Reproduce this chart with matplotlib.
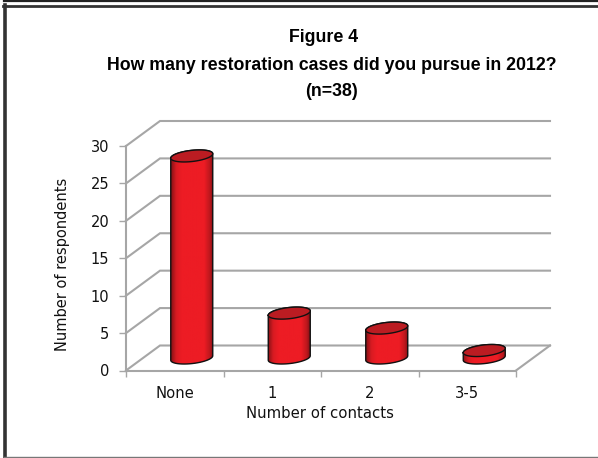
import numpy as np
import matplotlib
matplotlib.use('Agg')
import matplotlib.pyplot as plt
from matplotlib.colors import LinearSegmentedColormap
from matplotlib.lines import Line2D
from matplotlib.patches import Polygon

categories = ['None', '1', '2', '3-5']
respondents = [27, 6, 4, 1]
yTicks = [0, 5, 10, 15, 20, 25, 30]

titleLines = ['Figure 4', 'How many restoration cases did you pursue in 2012?', '(n=38)']
titleY = [38, 65, 91]
titleX = [324, 332, 332]

W, H = 598, 458
gridColor = '#a6a6a6'
red = '#ed1c24'
redTop = '#bb1c22'

fig = plt.figure(figsize=(W / 100, H / 100), dpi=100)
ax = fig.add_axes([126 / W, 1 - 370.5 / H, 390 / W, 224.5 / H])
ax.set_xlim(-0.5, 3.5)
ax.set_ylim(0, 30)
ax.patch.set_alpha(0)

# size of one pixel in data units
pxX = 4 / 390
pxY = 30 / 224.5
depthX = 34 * pxX
depthY = 25 * pxY


## ----------------------------------------------------------------------------------------
def drawWalls():
    for v in yTicks:
        ax.plot([-0.5, -0.5 + depthX, 3.5 + depthX], [v, v + depthY, v + depthY],
                color=gridColor, lw=1.5, clip_on=False, zorder=1, solid_joinstyle='miter')
    ax.plot([3.5, 3.5 + depthX], [0, depthY], color=gridColor, lw=1.5, clip_on=False, zorder=1)


def ellipsePoints(cx, cy, t):
    # slightly tilted ellipse, the right end is higher than the left end
    a, b, tilt = 21.0, 5.6, 2.2
    x = a * np.cos(t)
    y = b * np.sin(t) + tilt * np.cos(t)
    return cx + x * pxX, cy + y * pxY


def drawCylinder(i, value):
    cx = i + depthX / 2
    base = depthY / 2

    tTop = np.linspace(np.pi, 0, 40)
    tLow = np.linspace(0, -np.pi, 40)
    xTop, yTop = ellipsePoints(cx, base + value, tTop)
    xLow, yLow = ellipsePoints(cx, base, tLow)
    xBody = np.concatenate([xTop, xLow])
    yBody = np.concatenate([yTop, yLow])
    body = Polygon(np.column_stack([xBody, yBody]), closed=True, facecolor=red, edgecolor='none',
                   zorder=3, clip_on=False)
    ax.add_patch(body)

    shade = LinearSegmentedColormap.from_list('shade', [(0, '#8a1216'), (0.12, '#d81b22'), (0.25, red),
                                                        (0.8, red), (0.93, '#bd171d'), (1, '#8a1216')])
    img = ax.imshow(np.linspace(0, 1, 64).reshape(1, -1), cmap=shade, aspect='auto', zorder=3.1,
                    extent=[xBody.min(), xBody.max(), yBody.min(), yBody.max()])
    img.set_clip_path(body)
    ax.plot(np.append(xBody, xBody[0]), np.append(yBody, yBody[0]), color='#111111', lw=1.0, zorder=4,
            clip_on=False)

    t = np.linspace(0, 2 * np.pi, 80)
    xCap, yCap = ellipsePoints(cx, base + value, t)
    cap = Polygon(np.column_stack([xCap, yCap]), closed=True, facecolor=redTop, edgecolor='#111111',
                  lw=1.0, zorder=5, clip_on=False)
    ax.add_patch(cap)


## ----------------------------------------------------------------------------------------
drawWalls()
for i, value in enumerate(respondents):
    drawCylinder(i, value)

ax.set_xlim(-0.5, 3.5)
ax.set_ylim(0, 30)

for side in ['top', 'right']:
    ax.spines[side].set_visible(False)
for side in ['left', 'bottom']:
    ax.spines[side].set_color(gridColor)
    ax.spines[side].set_linewidth(1.5)

ax.set_yticks(yTicks)
ax.set_xticks(range(len(categories)))
ax.set_xticklabels(categories)
ax.set_xticks(np.arange(-0.5, 4, 1), minor=True)
ax.tick_params(axis='x', which='major', length=0, pad=11, labelsize=10.6, colors='#111111')
ax.tick_params(axis='x', which='minor', length=4, width=1, color=gridColor)
ax.tick_params(axis='y', length=5, width=1, color=gridColor, labelcolor='#111111', labelsize=10.5, pad=7)

fig.text(320 / W, 1 - 414 / H, 'Number of contacts', ha='center', va='center', fontsize=10.7, color='#111111')
fig.text(62 / W, 1 - 264 / H, 'Number of respondents', ha='center', va='center', rotation=90, fontsize=10.5,
         color='#111111')

for line, x, y in zip(titleLines, titleX, titleY):
    fig.text(x / W, 1 - y / H, line, ha='center', va='center', fontsize=12.8, fontweight='bold',
             family='Liberation Sans', color='black')

# page frame around the chart
frame = [([4 / W, 1], [1 - 0.8 / H, 1 - 0.8 / H], '#222222', 1.6),
         ([3 / W, 1], [1 - 6 / H, 1 - 6 / H], '#333333', 2.0),
         ([4.5 / W, 4.5 / W], [1 - 5 / H, 0], '#333333', 2.6),
         ([4 / W, 1], [1 - 457 / H, 1 - 457 / H], '#777777', 1.0)]
for xs, ys, color, lw in frame:
    fig.add_artist(Line2D(xs, ys, color=color, lw=lw))

fig.savefig('out.png', dpi=100)
